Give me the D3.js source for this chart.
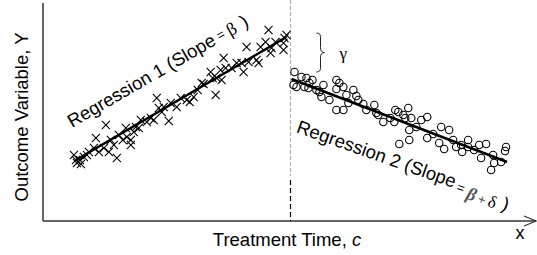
<!DOCTYPE html>
<html>
<head>
<meta charset="utf-8">
<script src="https://cdn.jsdelivr.net/npm/d3@7"></script>
<style>
	body { margin: 0; background: #fff; }
	svg { display: block; font-family: "Liberation Sans", Arial, sans-serif; }
</style>
</head>
<body>
<div id="chart"></div>
<script>
// data: time t and outcome v (arbitrary units)
const cutoff = 24.8;

// before treatment (crosses)
const preT = [3.1, 3.3, 3.4, 3.7, 3.8, 4.1, 4.4, 4.6, 5.1, 5.3, 5.6, 6.1, 6.3, 6.8, 7.1, 7.4, 7.6, 8.0, 8.3, 8.4,
	8.8, 8.8, 9.1, 9.3, 9.8, 10.4, 10.8, 11.1, 11.4, 11.6, 11.9, 12.1, 12.6, 12.8, 13.4, 13.8, 14.4, 14.7, 15.1, 15.9,
	16.1, 16.8, 17.0, 17.3, 17.4, 17.8, 17.9, 18.1, 18.3, 18.9, 19.4, 19.9, 20.1, 20.4, 20.6, 21.4, 21.6, 21.8, 22.3, 22.6,
	22.8, 22.9, 23.3, 24.1, 24.1, 24.4, 24.2, 6.6, 9.6, 15.5];
const preV = [6.6, 6.1, 5.8, 6.1, 5.7, 6.4, 6.6, 6.9, 7.3, 8.3, 6.9, 7.3, 9.6, 8.1, 7.6, 6.3, 8.6, 8.1, 9.3, 8.4,
	7.6, 8.1, 8.9, 9.4, 10.1, 9.9, 10.3, 10.1, 12.3, 11.3, 10.9, 11.4, 10.0, 11.8, 11.4, 12.3, 12.1, 11.9, 12.4, 13.8,
	13.7, 14.9, 14.3, 12.6, 14.3, 15.1, 14.1, 16.3, 15.3, 15.3, 15.8, 15.8, 14.9, 17.4, 15.9, 16.1, 15.8, 17.4, 17.9, 19.1,
	16.8, 17.3, 17.9, 17.1, 17.8, 18.6, 18.3, 6.9, 9.3, 13.1];

// after treatment (circles)
const postT = [25.2, 25.1, 25.4, 25.9, 26.4, 26.2, 26.7, 26.6, 27.4, 27.7, 28.1, 27.9, 28.7, 29.4, 29.7, 29.4, 30.1, 30.4,
	29.4, 30.1, 30.6, 31.4, 32.1, 32.4, 33.2, 33.4, 33.6, 34.1, 35.3, 35.2, 35.6, 36.1, 36.6, 36.3, 36.9, 36.7, 35.7, 36.7,
	37.4, 37.9, 38.5, 39.9, 40.7, 38.5, 39.1, 39.7, 40.2, 41.4, 41.9, 42.0, 42.6, 42.6, 43.7, 44.4, 43.9, 45.1, 45.2, 44.9,
	45.9, 46.3, 46.4, 27.0, 31.1, 31.6, 34.8, 41.1, 43.2];
const postV = [14.9, 13.6, 13.4, 14.4, 14.3, 13.4, 13.8, 13.3, 13.1, 12.9, 13.6, 12.4, 12.1, 14.1, 13.8, 13.2, 13.4, 12.6,
	11.1, 11.1, 11.8, 12.5, 11.7, 11.1, 11.6, 10.8, 10.6, 9.9, 11.1, 9.9, 10.9, 10.6, 11.3, 10.3, 10.3, 9.1, 7.7, 8.1,
	9.4, 10.1, 10.4, 9.4, 9.1, 8.3, 8.7, 7.8, 7.2, 7.4, 7.6, 6.9, 8.1, 7.4, 7.6, 7.7, 6.3, 6.6, 5.8, 5.1,
	5.9, 7.0, 7.4, 14.1, 13.1, 12.1, 10.3, 8.1, 7.1];

// fitted lines [t, v]
const fit1 = [[3.3, 6.1], [24.4, 18.4]];
const fit2 = [[24.9, 14.2], [46.5, 5.9]];
// the jump (gamma) brace ends
const gap = [18.8, 14.9];

const width = 537;
const height = 255;
const margin = { top: 3, right: 1, bottom: 34, left: 43 };

const x = d3.scaleLinear().domain([0, 49.4]).range([margin.left, width - margin.right]);
const y = d3.scaleLinear().domain([0, 21.8]).range([height - margin.bottom, margin.top]);

const svg = d3.select('#chart')
	.append('svg')
	.attr('width', width)
	.attr('height', height);

// axes (plain lines, no ticks)
const axisY = y(0);
svg.append('line')
	.attr('x1', x(0)).attr('x2', x(0))
	.attr('y1', margin.top).attr('y2', axisY)
	.attr('stroke', '#333').attr('stroke-width', 1.5);

svg.append('line')
	.attr('x1', x(0)).attr('x2', width - 1)
	.attr('y1', axisY).attr('y2', axisY)
	.attr('stroke', '#333').attr('stroke-width', 1.5);

// arrow head at the end of x axis
svg.append('path')
	.attr('d', `M${width - 13},${axisY - 5}L${width - 1},${axisY}L${width - 13},${axisY + 5}`)
	.attr('fill', 'none').attr('stroke', '#333').attr('stroke-width', 1.2);

// treatment cutoff
svg.append('line')
	.attr('x1', x(cutoff)).attr('x2', x(cutoff))
	.attr('y1', 0).attr('y2', 176)
	.attr('stroke', '#aaa').attr('stroke-width', 1)
	.attr('stroke-dasharray', '4,2');
svg.append('line')
	.attr('x1', x(cutoff)).attr('x2', x(cutoff))
	.attr('y1', 180).attr('y2', axisY)
	.attr('stroke', '#000').attr('stroke-width', 1.2)
	.attr('stroke-dasharray', '5,3');

// crosses
const cross = d3.symbol(d3.symbolTimes, 44);
svg.append('g')
	.attr('class', 'pre')
	.selectAll('path')
	.data(preT.map((t, i) => [t, preV[i]]))
	.join('path')
	.attr('transform', d => `translate(${x(d[0])},${y(d[1])})`)
	.attr('d', cross)
	.attr('fill', 'none')
	.attr('stroke', '#000')
	.attr('stroke-width', 1.1);

// circles
svg.append('g')
	.attr('class', 'post')
	.selectAll('circle')
	.data(postT.map((t, i) => [t, postV[i]]))
	.join('circle')
	.attr('cx', d => x(d[0]))
	.attr('cy', d => y(d[1]))
	.attr('r', 3.7)
	.attr('fill', 'none')
	.attr('stroke', '#000')
	.attr('stroke-width', 1.1);

// regression lines
const line = d3.line().x(d => x(d[0])).y(d => y(d[1]));
[fit1, fit2].forEach(f => {
	svg.append('path')
		.datum(f)
		.attr('d', line)
		.attr('fill', 'none')
		.attr('stroke', '#000')
		.attr('stroke-width', 2.6);
});

// gamma brace
const bx = x(cutoff) + 29;
const b0 = y(gap[0]);
const b1 = y(gap[1]);
const bm = (b0 + b1) / 2;
svg.append('path')
	.attr('d', `M${bx - 3},${b0} Q${bx + 2},${b0} ${bx + 1},${b0 + 6} L${bx + 1},${bm - 5} Q${bx + 1},${bm} ${bx + 5},${bm}`
		+ ` Q${bx + 1},${bm} ${bx + 1},${bm + 5} L${bx + 1},${b1 - 6} Q${bx + 2},${b1} ${bx - 3},${b1}`)
	.attr('fill', 'none')
	.attr('stroke', '#222')
	.attr('stroke-width', 1);

svg.append('text')
	.attr('x', bx + 20)
	.attr('y', bm + 6)
	.attr('font-family', '"Liberation Serif", "DejaVu Serif", serif')
	.attr('font-size', 17)
	.text('γ');

// regression labels
const lab1 = svg.append('text')
	.attr('transform', `translate(${x(2.9)},${y(9.3)}) rotate(-30)`)
	.attr('font-size', 18.5);
lab1.append('tspan').text('Regression 1 (Slope');
lab1.append('tspan').attr('font-size', 13).attr('dx', 4).attr('dy', -2).text('=');
lab1.append('tspan').attr('font-size', 18).attr('dx', 4).attr('dy', 2)
	.attr('font-family', '"Liberation Serif", serif').text('β');
lab1.append('tspan').attr('dx', 7).text(')');

const lab2 = svg.append('text')
	.attr('transform', `translate(${x(25.3)},${y(8.9)}) rotate(19.5)`)
	.attr('font-size', 18.5);
lab2.append('tspan').text('Regression 2 (Slope');
lab2.append('tspan').attr('font-size', 13).attr('dx', 3).attr('dy', 2).text('=');
lab2.append('tspan').attr('font-size', 18).attr('dx', 4).attr('dy', 4)
	.attr('fill', '#555').attr('font-weight', 'bold').attr('font-style', 'italic')
	.attr('font-family', '"Liberation Serif", serif').text('β');
lab2.append('tspan').attr('font-size', 13).attr('dx', 3).attr('fill', '#444').text('+');
lab2.append('tspan').attr('font-size', 17).attr('dx', 3)
	.attr('font-family', '"Liberation Serif", serif').text('δ');
lab2.append('tspan').attr('font-size', 18.5).attr('dx', 6).attr('dy', -2).text(')');

// axis titles
svg.append('text')
	.attr('transform', `translate(28,${(margin.top + axisY) / 2 + 5}) rotate(-90)`)
	.attr('text-anchor', 'middle')
	.attr('font-size', 18.5)
	.text('Outcome Variable, Y');

svg.append('text')
	.attr('x', 287)
	.attr('y', 246)
	.attr('text-anchor', 'middle')
	.attr('font-size', 18.5)
	.text('Treatment Time, ')
	.append('tspan')
	.attr('font-style', 'italic')
	.text('c');

svg.append('text')
	.attr('x', 520)
	.attr('y', 239)
	.attr('text-anchor', 'middle')
	.attr('font-size', 18)
	.text('x');
</script>
</body>
</html>
